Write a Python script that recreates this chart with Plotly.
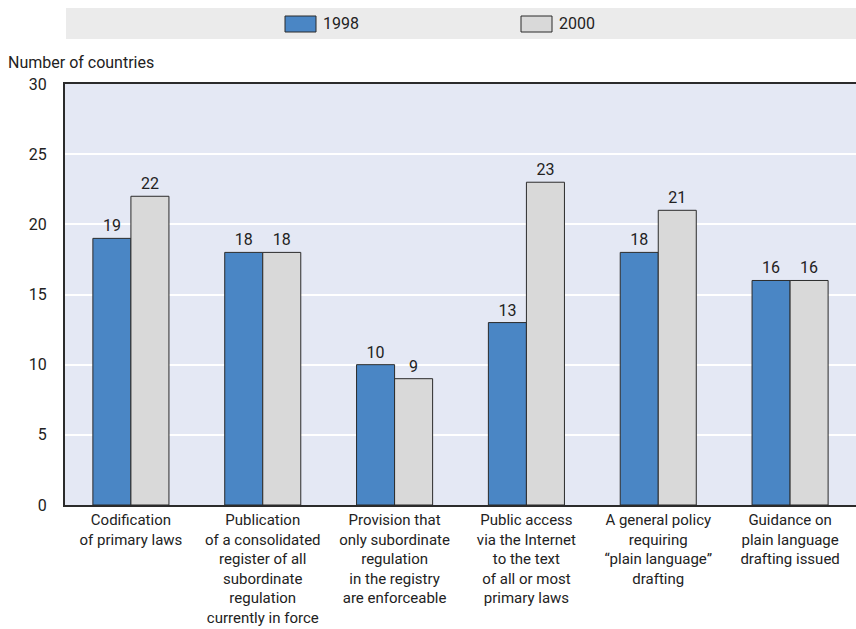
import plotly.graph_objects as go

categories = [
    "Codification<br>of primary laws",
    "Publication<br>of a consolidated<br>register of all<br>subordinate<br>regulation<br>currently in force",
    "Provision that<br>only subordinate<br>regulation<br>in the registry<br>are enforceable",
    "Public access<br>via the Internet<br>to the text<br>of all or most<br>primary laws",
    "A general policy<br>requiring<br>\u201cplain language\u201d<br>drafting",
    "Guidance on<br>plain language<br>drafting issued",
]
values_1998 = [19, 18, 10, 13, 18, 16]
values_2000 = [22, 18, 9, 23, 21, 16]
series_names = ["1998", "2000"]
y_ticks = [0, 5, 10, 15, 20, 25, 30]

FONT = "Roboto, Liberation Sans, sans-serif"
BLUE = "#4a86c5"
GREY = "#d9d9d9"
EDGE = "#2b2b2b"
TEXT = "#222222"

W, H = 856, 629
ML, MR, MT, MB = 65, 0, 84, 124
PW, PH = W - ML - MR, H - MT - MB


def px(x):
    return (x - ML) / PW


def py(y):
    return (H - MB - y) / PH


fig = go.Figure()
for name, vals, col in [(series_names[0], values_1998, BLUE), (series_names[1], values_2000, GREY)]:
    fig.add_trace(go.Bar(
        name=name, x=categories, y=vals,
        marker=dict(color=col, line=dict(color=EDGE, width=1)),
        text=[str(v) for v in vals], textposition="outside", textangle=0,
        textfont=dict(family=FONT, size=16, color=TEXT),
        cliponaxis=False, showlegend=False,
    ))

shapes = [
    # legend band
    dict(type="rect", xref="paper", yref="paper", x0=px(66), x1=px(856), y0=py(39), y1=py(8),
         fillcolor="#ebebeb", line=dict(width=0), layer="below"),
    dict(type="rect", xref="paper", yref="paper", x0=px(285), x1=px(316), y0=py(32), y1=py(16),
         fillcolor=BLUE, line=dict(color=EDGE, width=1)),
    dict(type="rect", xref="paper", yref="paper", x0=px(521), x1=px(552), y0=py(32), y1=py(16),
         fillcolor=GREY, line=dict(color=EDGE, width=1)),
]
annotations = [
    dict(xref="paper", yref="paper", x=px(321), y=py(24), text=series_names[0], showarrow=False,
         xanchor="left", yanchor="middle", font=dict(family=FONT, size=16, color=TEXT)),
    dict(xref="paper", yref="paper", x=px(557), y=py(24), text=series_names[1], showarrow=False,
         xanchor="left", yanchor="middle", font=dict(family=FONT, size=16, color=TEXT)),
    dict(xref="paper", yref="paper", x=px(6), y=py(62), text="Number of countries", showarrow=False,
         xanchor="left", yanchor="middle", font=dict(family=FONT, size=16, color=TEXT)),
]

fig.update_layout(
    width=W, height=H,
    margin=dict(l=ML, r=MR, t=MT, b=MB),
    paper_bgcolor="white", plot_bgcolor="#e4e8f4",
    barmode="group", bargap=0.423, bargroupgap=0,
    font=dict(family=FONT, size=15, color=TEXT),
    shapes=shapes, annotations=annotations,
    showlegend=False,
)
fig.update_xaxes(
    showline=True, linecolor=EDGE, linewidth=2, mirror=True,
    showgrid=False, ticks="", tickfont=dict(family=FONT, size=15, color=TEXT),
)
fig.update_yaxes(
    range=[0, 30], tickvals=y_ticks, showline=True, linecolor=EDGE, linewidth=2,
    showgrid=True, gridcolor="white", gridwidth=2, zeroline=False,
    ticks="outside", ticklen=13, tickcolor="rgba(0,0,0,0)",
    tickfont=dict(family=FONT, size=16, color=TEXT),
)

fig.write_html("out.html")
